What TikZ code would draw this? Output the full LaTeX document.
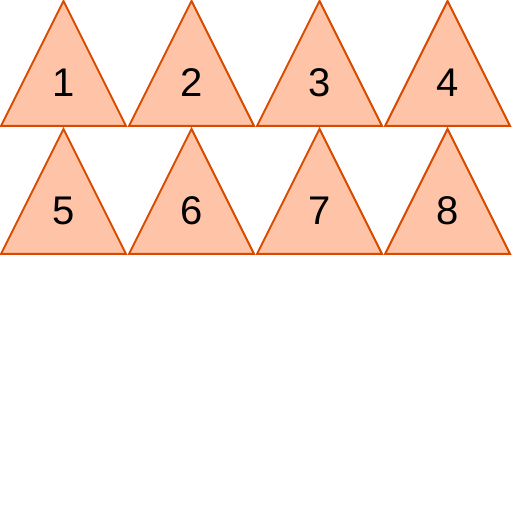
\documentclass[tikz,border=0pt]{standalone}
\usepackage{fontspec}
\setmainfont{Liberation Sans}
\usetikzlibrary{calc}
\definecolor{triline}{HTML}{D94A00}
\definecolor{trifill}{HTML}{FFC4A8}

\begin{document}
\begin{tikzpicture}[
  x=0.5pt,y=-0.5pt,
  tri/.style={draw=triline,fill=trifill,line width=1pt,line join=miter},
  num/.style={font=\fontsize{20}{24}\selectfont,inner sep=0pt}
]
\useasboundingbox (0,0) rectangle (512,512);
% two rows of four triangles
\foreach \r in {0,1} {
  \foreach \c in {0,1,2,3} {
    \pgfmathtruncatemacro{\n}{4*\r+\c+1}
    \draw[tri] (128*\c+1,128*\r+126) -- (128*\c+63.5,128*\r+1) -- (128*\c+126,128*\r+126) -- cycle;
    \node[num] (t\n) at (128*\c+63.5,128*\r+83) {\n};
  }
}
\end{tikzpicture}
\end{document}
